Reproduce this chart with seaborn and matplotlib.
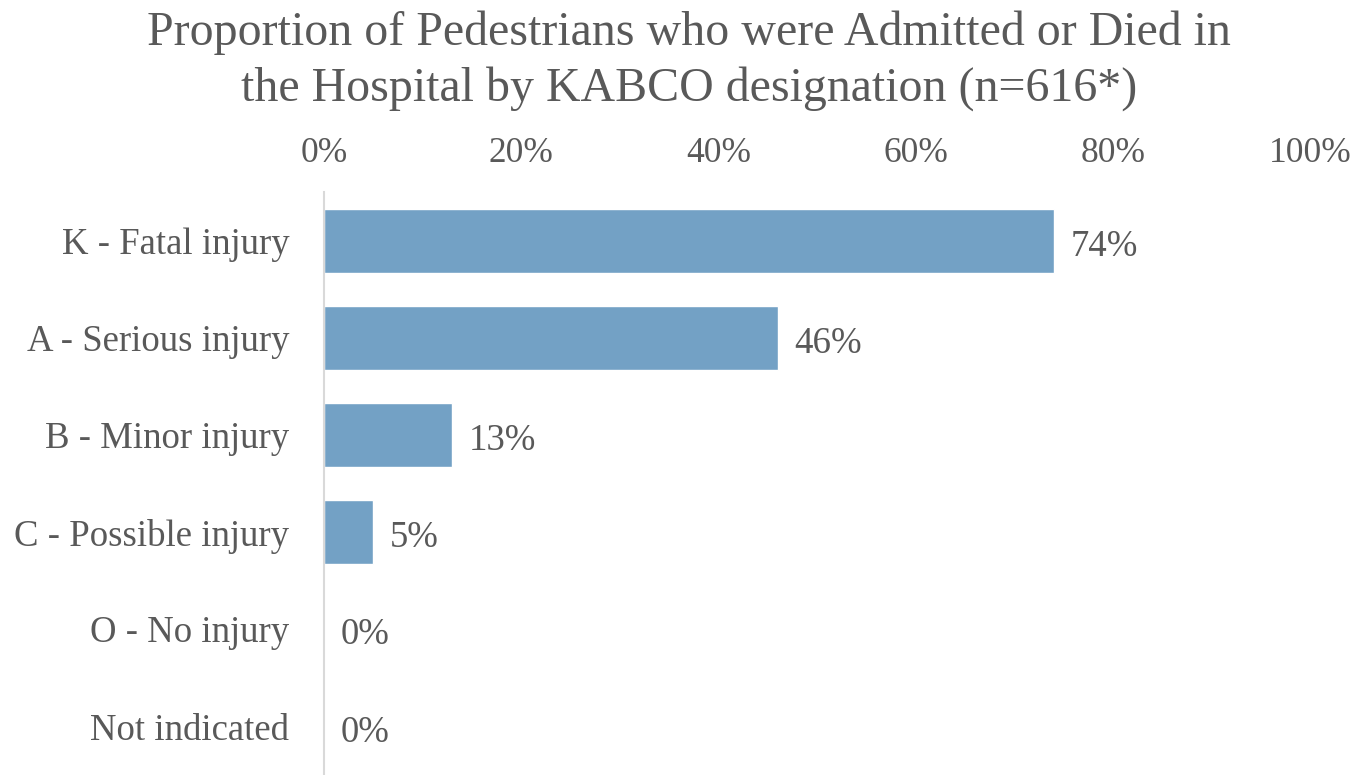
import matplotlib
matplotlib.use("Agg")
import matplotlib.pyplot as plt
import seaborn as sns
import pandas as pd
from matplotlib.ticker import PercentFormatter

categories = ["K - Fatal injury", "A - Serious injury", "B - Minor injury",
              "C - Possible injury", "O - No injury", "Not indicated"]
proportions = [74, 46, 13, 5, 0, 0]

df = pd.DataFrame({"category": categories, "pct": proportions})

sns.set_theme(style="white")
plt.rcParams["font.family"] = ["Liberation Serif", "DejaVu Serif"]

text_color = "#595959"
bar_color = "#73A1C5"

fig = plt.figure(figsize=(13.7, 7.75), dpi=100)
ax = fig.add_axes([324 / 1370, 0.0, (1310 - 324) / 1370, (775 - 192) / 775])

sns.barplot(data=df, x="pct", y="category", color=bar_color, width=0.66,
            saturation=1, ax=ax)

ax.set_xlim(0, 100)
ax.set_ylim(len(categories) - 0.5, -0.5)
ax.xaxis.set_major_formatter(PercentFormatter(decimals=0))
ax.set_xticks(range(0, 101, 20))
ax.xaxis.tick_top()
ax.tick_params(axis="x", length=0, pad=16, labelsize=25.5, labelcolor=text_color)
ax.tick_params(axis="y", length=0, pad=25, labelsize=26.5, labelcolor=text_color)
ax.set_xlabel("")
ax.set_ylabel("")

for side in ["top", "right", "bottom"]:
    ax.spines[side].set_visible(False)
ax.spines["left"].set_color("#D9D9D9")
ax.spines["left"].set_linewidth(1.5)

for i, v in enumerate(proportions):
    ax.text(v + 1.7, i + 0.02, f"{v}%", va="center_baseline", ha="left",
            fontsize=26.5, color=text_color)

fig.suptitle("Proportion of Pedestrians who were Admitted or Died in\n"
             "the Hospital by KABCO designation (n=616*)",
             x=689 / 1370, y=0.987, fontsize=34.5, color=text_color,
             linespacing=1.33, va="top")

fig.savefig("out.png", dpi=100, facecolor="white")
